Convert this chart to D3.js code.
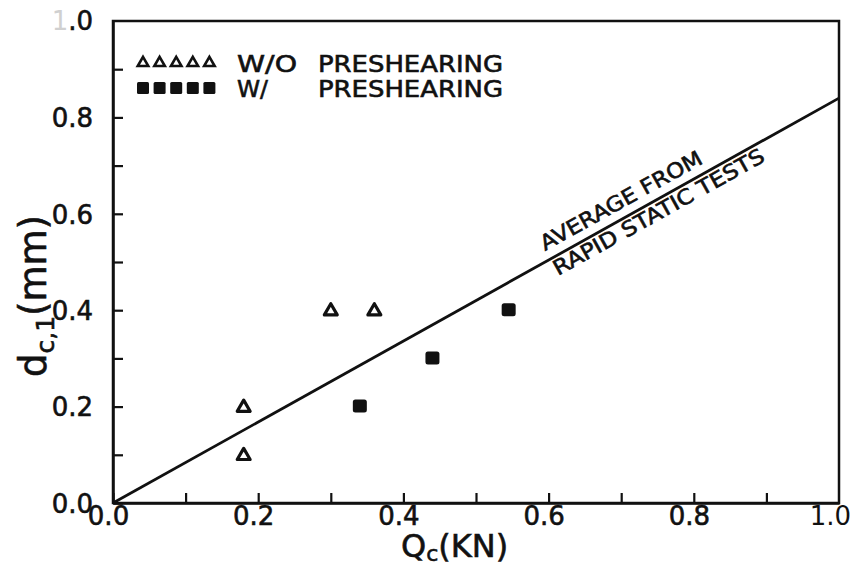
<!DOCTYPE html>
<html>
<head>
<meta charset="utf-8">
<script src="https://cdn.jsdelivr.net/npm/d3@7/dist/d3.min.js"></script>
<style>
  html, body { margin: 0; padding: 0; background: #fff; }
  svg { display: block; }
  text { font-family: "DejaVu Sans", sans-serif; fill: #111; }
</style>
</head>
<body>
<svg id="chart" width="853" height="567"></svg>
<script>
// ---- data ----
const withoutQ = [0.18, 0.18, 0.30, 0.36];
const withoutD = [0.20, 0.10, 0.40, 0.40];
const withQ = [0.34, 0.44, 0.545];
const withD = [0.20, 0.30, 0.40];
const avgQ = [0.0, 1.0];
const avgD = [0.0, 0.84];
const xTicks = [0.0, 0.1, 0.2, 0.3, 0.4, 0.5, 0.6, 0.7, 0.8, 0.9, 1.0];
const yTicks = [0.0, 0.1, 0.2, 0.3, 0.4, 0.5, 0.6, 0.7, 0.8, 0.9, 1.0];
const majorLabels = ["0.0", "0.2", "0.4", "0.6", "0.8", "1.0"];
const legendLabels = ["W/O", "W/"];
const legendWord = "PRESHEARING";

const svg = d3.select("#chart");
const x = d3.scaleLinear().domain([0, 1]).range([113, 839]);
const y = d3.scaleLinear().domain([0, 1]).range([503, 21]);
const fmt = d => { const s = d.toFixed(1); return majorLabels.includes(s) ? s : ""; };
const ink = sel => sel.attr("stroke", "#111").attr("stroke-width", 0.6);

// frame
svg.append("rect")
  .attr("x", x(0)).attr("y", y(1))
  .attr("width", x(1) - x(0)).attr("height", y(0) - y(1))
  .attr("fill", "none").attr("stroke", "#111").attr("stroke-width", 2.5);

// x axis
const gx = svg.append("g").attr("transform", `translate(0,${y(0)})`)
  .call(d3.axisBottom(x).tickValues(xTicks.slice(0, -1)).tickSizeInner(-10).tickSizeOuter(0).tickFormat(fmt));
gx.select(".domain").attr("stroke", "#111").attr("stroke-width", 2.5);
gx.selectAll(".tick line").attr("stroke", "#111").attr("stroke-width", 2.2);
gx.selectAll(".tick text")
  .attr("font-family", "DejaVu Sans").attr("font-size", 26).attr("fill", "#111")
  .attr("y", 22).attr("dy", "0").attr("dx", -5).call(ink);

// y axis
const gy = svg.append("g").attr("transform", `translate(${x(0)},0)`)
  .call(d3.axisLeft(y).tickValues(yTicks.slice(0, -1)).tickSizeInner(-10).tickSizeOuter(0).tickFormat(fmt));
gy.select(".domain").attr("stroke", "#111").attr("stroke-width", 2.5);
gy.selectAll(".tick line").attr("stroke", "#111").attr("stroke-width", 2.2);
gy.selectAll(".tick text")
  .attr("font-family", "DejaVu Sans").attr("font-size", 26).attr("fill", "#111")
  .attr("x", -20).attr("dy", "0.36em").call(ink);

// faint end labels (1.0)
const topLbl = svg.append("text").attr("x", x(0) - 20).attr("y", y(1)).attr("dy", "0.36em")
  .attr("text-anchor", "end").attr("font-size", 26);
topLbl.append("tspan").attr("fill", "#d0d0d0").text("1");
topLbl.append("tspan").attr("stroke", "#111").attr("stroke-width", 0.6).text(".0");
svg.append("text").attr("x", 851).attr("y", y(0) + 22).attr("text-anchor", "end")
  .attr("font-size", 26).attr("fill", "#c8c8c8").text("1.0");

// average line
svg.append("path")
  .datum(avgQ.map((q, i) => [q, avgD[i]]))
  .attr("d", d3.line().x(d => x(d[0])).y(d => y(d[1])))
  .attr("fill", "none").attr("stroke", "#111").attr("stroke-width", 2.8);

// annotation
const ang = -29;
svg.append("text").attr("transform", `translate(545,251) rotate(${ang})`)
  .attr("font-size", 21).attr("textLength", 182).attr("lengthAdjust", "spacingAndGlyphs")
  .call(ink).text("AVERAGE FROM");
svg.append("text").attr("transform", `translate(558,276) rotate(${ang})`)
  .attr("font-size", 21).attr("textLength", 238).attr("lengthAdjust", "spacingAndGlyphs")
  .call(ink).text("RAPID  STATIC  TESTS");

// data points
const tri = d3.symbol(d3.symbolTriangle, 72);
svg.append("g").selectAll("path").data(withoutQ.map((q, i) => [q, withoutD[i]])).join("path")
  .attr("d", tri).attr("transform", d => `translate(${x(d[0])},${y(d[1]) + 1})`)
  .attr("fill", "#fff").attr("stroke", "#111").attr("stroke-width", 3.2).attr("stroke-linejoin", "round");
svg.append("g").selectAll("rect").data(withQ.map((q, i) => [q, withD[i]])).join("rect")
  .attr("x", d => x(d[0]) - 7).attr("y", d => y(d[1]) - 7)
  .attr("width", 14).attr("height", 13).attr("rx", 2.5)
  .attr("fill", "#111");

// legend
const legTri = d3.symbol(d3.symbolTriangle, 48);
const legX = d3.range(5).map(i => 143 + i * 16.6);
svg.append("g").selectAll("path").data(legX).join("path")
  .attr("d", legTri).attr("transform", d => `translate(${d},63)`)
  .attr("fill", "#fff").attr("stroke", "#111").attr("stroke-width", 2.6);
svg.append("g").selectAll("rect").data(legX).join("rect")
  .attr("x", d => d - 6).attr("y", 82).attr("width", 12).attr("height", 12).attr("rx", 1.5)
  .attr("fill", "#111");
legendLabels.forEach((lab, i) => {
  const yy = 72 + i * 25;
  svg.append("text").attr("x", 237).attr("y", yy).attr("font-size", 23)
    .attr("textLength", i === 0 ? 60 : 31).attr("lengthAdjust", "spacingAndGlyphs").call(ink).text(lab);
  svg.append("text").attr("x", 318).attr("y", yy).attr("font-size", 23)
    .attr("textLength", 185).attr("lengthAdjust", "spacingAndGlyphs").call(ink).text(legendWord);
});

// axis titles
const xt = svg.append("text").attr("x", 401).attr("y", 557).attr("font-size", 32).call(ink);
xt.append("tspan").text("Q");
xt.append("tspan").attr("font-size", 22).attr("dy", 4).text("c");
xt.append("tspan").attr("dy", -4).text("(KN)");

const yt = svg.append("text").attr("transform", "translate(46,296) rotate(-90)")
  .attr("text-anchor", "middle").attr("font-size", 37).call(ink);
yt.append("tspan").text("d");
yt.append("tspan").attr("font-size", 25).attr("dy", 8).text("c,1");
yt.append("tspan").attr("dy", -8).text("(mm)");
</script>
</body>
</html>
